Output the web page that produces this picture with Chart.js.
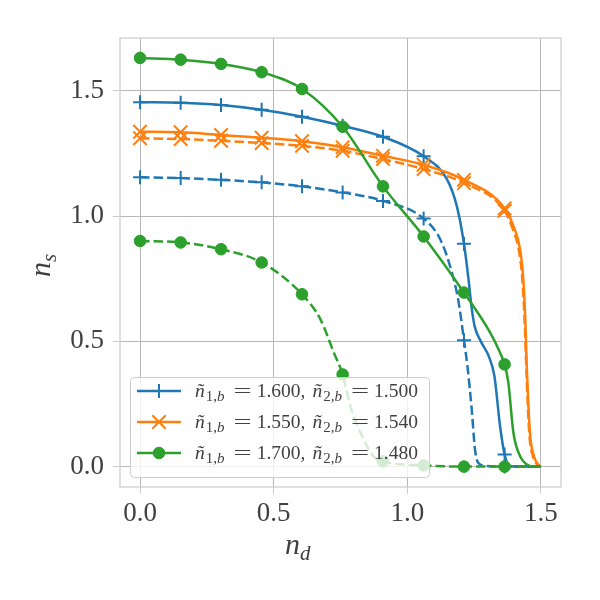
<!DOCTYPE html>
<html>
<head>
<meta charset="utf-8">
<script src="https://cdn.jsdelivr.net/npm/chart.js@4.4.0/dist/chart.umd.min.js"></script>
<style>
  html, body { margin: 0; padding: 0; background: #fff; }
  #c { display: block; }
</style>
</head>
<body>
<canvas id="c" width="600" height="600"></canvas>
<script>
// ---- data ----
const xTicks = [0, 0.5, 1.0, 1.5];
const yTicks = [0, 0.5, 1.0, 1.5];
const markerX = [0, 0.152, 0.303, 0.455, 0.606, 0.758, 0.909, 1.061, 1.212, 1.364];

// n_1b = 1.600, n_2b = 1.500
const blueSolid = [[0,1.455],[0.152,1.453],[0.303,1.444],[0.455,1.425],[0.606,1.397],[0.758,1.361],
  [0.909,1.317],[1.061,1.239],[1.148,1.148],[1.185,1.041],[1.212,0.89],[1.229,0.748],[1.24,0.64],
  [1.252,0.56],[1.275,0.5],[1.305,0.44],[1.326,0.361],[1.347,0.161],[1.364,0.048],[1.378,0.008],[1.4,0],[1.5,0]];
const blueDashed = [[0,1.155],[0.152,1.152],[0.303,1.145],[0.455,1.135],[0.606,1.119],[0.758,1.095],
  [0.909,1.061],[1.061,0.991],[1.123,0.908],[1.16,0.80],[1.19,0.668],[1.212,0.505],[1.225,0.40],
  [1.241,0.228],[1.253,0.07],[1.265,0.015],[1.29,0.003],[1.364,0],[1.5,0]];
// n_1b = 1.550, n_2b = 1.540
const orangeSolid = [[0,1.337],[0.152,1.335],[0.303,1.324],[0.455,1.313],[0.606,1.299],[0.758,1.275],
  [0.909,1.241],[1.061,1.205],[1.212,1.145],[1.364,1.031],[1.397,0.961],[1.422,0.868],[1.434,0.748],
  [1.441,0.6],[1.447,0.40],[1.459,0.135],[1.474,0.041],[1.49,0.008],[1.5,0]];
const orangeDashed = [[0,1.311],[0.152,1.308],[0.303,1.301],[0.455,1.292],[0.606,1.281],[0.758,1.261],
  [0.909,1.228],[1.061,1.188],[1.212,1.132],[1.364,1.021],[1.394,0.95],[1.418,0.86],[1.431,0.74],
  [1.438,0.6],[1.445,0.40],[1.456,0.135],[1.47,0.041],[1.486,0.008],[1.5,0]];
// n_1b = 1.700, n_2b = 1.480
const greenSolid = [[0,1.632],[0.152,1.625],[0.303,1.608],[0.455,1.575],[0.606,1.508],[0.758,1.357],
  [0.909,1.119],[1.061,0.919],[1.212,0.695],[1.31,0.535],[1.347,0.455],[1.364,0.408],[1.378,0.335],
  [1.397,0.135],[1.422,0.041],[1.447,0.008],[1.47,0],[1.5,0]];
const greenDashed = [[0,0.901],[0.152,0.895],[0.303,0.868],[0.455,0.815],[0.606,0.688],[0.675,0.588],
  [0.725,0.455],[0.758,0.368],[0.787,0.241],[0.837,0.108],[0.874,0.041],[0.909,0.021],[1.061,0.005],
  [1.212,0],[1.364,0],[1.5,0]];

const legendN1 = ['1.600', '1.550', '1.700'];
const legendN2 = ['1.500', '1.540', '1.480'];

// ---- styling ----
const BLUE = '#1f77b4', ORANGE = '#ff7f0e', GREEN = '#2ca02c';
const SERIF = '"Liberation Serif", "DejaVu Serif", serif';
const TEXT = '#404040';
const markers = {
  cross: { style: 'cross', r: 7, bw: 2 },
  crossRot: { style: 'crossRot', r: 9.5, bw: 2 },
  circle: { style: 'circle', r: 5.8, bw: 1 }
};

function isMarker(x) {
  return markerX.some(m => Math.abs(m - x) < 1e-9);
}

function makeSet(points, color, mk, dashed, order) {
  return {
    data: points.map(p => ({ x: p[0], y: p[1] })),
    showLine: true,
    borderColor: color,
    backgroundColor: color,
    borderWidth: 2.5,
    borderDash: dashed ? [9.5, 4] : [],
    cubicInterpolationMode: 'monotone',
    tension: 0.4,
    pointStyle: mk.style,
    pointRadius: ctx => (ctx.raw && isMarker(ctx.raw.x)) ? mk.r : 0,
    pointHoverRadius: 0,
    pointBorderWidth: mk.bw,
    pointBackgroundColor: color,
    pointBorderColor: color,
    order: order
  };
}

// frame round the plot area
const framePlugin = {
  id: 'frame',
  beforeDatasetsDraw(chart) {
    const a = chart.chartArea, c = chart.ctx;
    c.save();
    c.strokeStyle = '#cccccc';
    c.lineWidth = 1.25;
    c.strokeRect(a.left, a.top, a.right - a.left, a.bottom - a.top);
    c.restore();
  }
};

// math-ish label: ñ_{1,b} = v1, ñ_{2,b} = v2
// token: [text, style, size, dy, gapAfter, xStretch]
function drawLegendText(c, x, y, v1, v2) {
  const big = 19.5, small = 15;
  const tokens = [
    ['ñ', 'italic', big, 0, 1, 1], ['1,', '', small, 4, 0, 1], ['b', 'italic', small, 4, 9, 1],
    ['=', '', big, 0, 5, 1.65], [v1, '', big, 0, 0, 1], [',', '', big, 0, 7, 1],
    ['ñ', 'italic', big, 0, 1, 1], ['2,', '', small, 4, 0, 1], ['b', 'italic', small, 4, 9, 1],
    ['=', '', big, 0, 5, 1.65], [v2, '', big, 0, 0, 1]
  ];
  let cx = x;
  tokens.forEach(t => {
    c.font = (t[1] ? t[1] + ' ' : '') + t[2] + 'px ' + SERIF;
    c.save();
    c.translate(cx, y + t[3]);
    c.scale(t[5], 1);
    c.fillText(t[0], 0, 0);
    c.restore();
    cx += c.measureText(t[0]).width * t[5] + t[4];
  });
}

const legendPlugin = {
  id: 'mplLegend',
  afterDatasetsDraw(chart) {
    const c = chart.ctx;
    const bx = 130, by = 377, bw = 299, bh = 100;
    c.save();
    c.beginPath();
    c.roundRect(bx + 0.5, by + 0.5, bw, bh, 4);
    c.fillStyle = 'rgba(255,255,255,0.8)';
    c.fill();
    c.strokeStyle = '#cccccc';
    c.lineWidth = 1;
    c.stroke();

    const rows = [[BLUE, markers.cross], [ORANGE, markers.crossRot], [GREEN, markers.circle]];
    rows.forEach((row, i) => {
      const y = 391 + 31 * i;
      c.strokeStyle = row[0];
      c.fillStyle = row[0];
      c.lineWidth = 2.5;
      c.setLineDash([]);
      c.beginPath();
      c.moveTo(137, y);
      c.lineTo(181, y);
      c.stroke();
      c.lineWidth = row[1].bw;
      Chart.helpers.drawPoint(c, { pointStyle: row[1].style, radius: row[1].r, borderWidth: row[1].bw, rotation: 0 }, 159, y);
      c.fillStyle = TEXT;
      c.textBaseline = 'alphabetic';
      c.textAlign = 'left';
      drawLegendText(c, 195, y + 6, legendN1[i], legendN2[i]);
    });

    // axis titles
    c.fillStyle = TEXT;
    c.font = 'italic 30px ' + SERIF;
    c.fillText('n', 285, 554);
    let w = c.measureText('n').width;
    c.font = 'italic 21px ' + SERIF;
    c.fillText('d', 285 + w, 560);

    c.translate(50, 277);
    c.rotate(-Math.PI / 2);
    c.font = 'italic 30px ' + SERIF;
    c.fillText('n', 0, 0);
    w = c.measureText('n').width;
    c.font = 'italic 21px ' + SERIF;
    c.fillText('s', w, 6);
    c.restore();
  }
};

const tickFont = { family: SERIF, size: 27 };

new Chart(document.getElementById('c').getContext('2d'), {
  type: 'scatter',
  data: {
    datasets: [
      makeSet(blueSolid, BLUE, markers.cross, false, 4),
      makeSet(blueDashed, BLUE, markers.cross, true, 5),
      makeSet(orangeSolid, ORANGE, markers.crossRot, false, 2),
      makeSet(orangeDashed, ORANGE, markers.crossRot, true, 3),
      makeSet(greenSolid, GREEN, markers.circle, false, 0),
      makeSet(greenDashed, GREEN, markers.circle, true, 1)
    ]
  },
  options: {
    responsive: false,
    animation: false,
    layout: { padding: { top: 38, right: 39, left: 0, bottom: 0 } },
    plugins: { legend: { display: false }, tooltip: { enabled: false } },
    scales: {
      x: {
        type: 'linear',
        min: -0.075, max: 1.575,
        afterBuildTicks: s => { s.ticks = xTicks.map(v => ({ value: v })); },
        afterFit: s => { s.height = 113; },
        ticks: { font: tickFont, color: TEXT, padding: 4, maxRotation: 0, autoSkip: false,
                 callback: v => v.toFixed(1) },
        grid: { color: '#b8b8b8', lineWidth: 1, tickLength: 7, tickColor: '#cccccc' },
        border: { display: false }
      },
      y: {
        type: 'linear',
        min: -0.0815, max: 1.7115,
        afterBuildTicks: s => { s.ticks = yTicks.map(v => ({ value: v })); },
        afterFit: s => { s.width = 120; },
        ticks: { font: tickFont, color: TEXT, padding: 9, autoSkip: false,
                 callback: v => v.toFixed(1) },
        grid: { color: '#b8b8b8', lineWidth: 1, tickLength: 7, tickColor: '#cccccc' },
        border: { display: false }
      }
    }
  },
  plugins: [framePlugin, legendPlugin]
});
</script>
</body>
</html>
